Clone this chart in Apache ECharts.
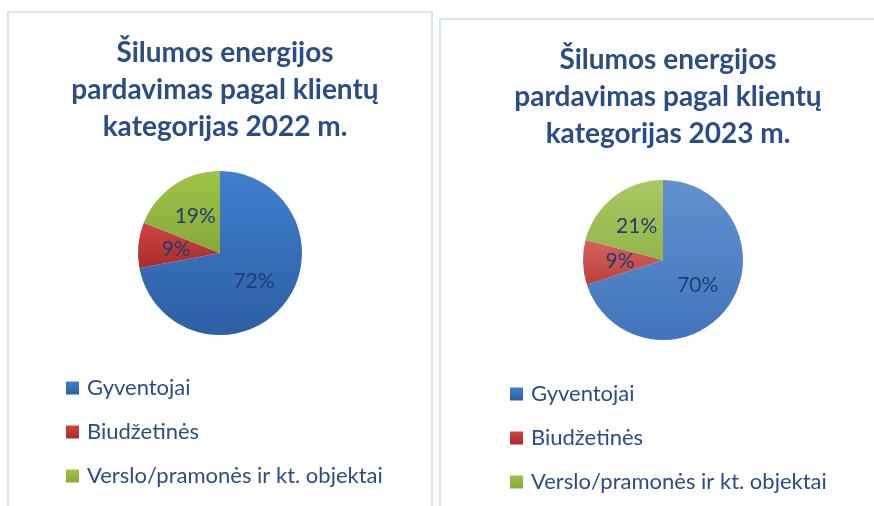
<!DOCTYPE html>
<html>
<head>
<meta charset="utf-8">
<script src="https://cdn.jsdelivr.net/npm/echarts@6/dist/echarts.min.js"></script>
<style>
    html, body { margin: 0; padding: 0; background: #fff; }
    #chart { width: 874px; height: 506px; }
</style>
</head>
<body>
<div id="chart"></div>
<script>
    // duomenys
    var categories = ['Gyventojai', 'Biudžetinės', 'Verslo/pramonės ir kt. objektai'];
    var values2022 = [72, 9, 19];
    var values2023 = [70, 9, 21];
    var titles = [
        'Šilumos energijos\npardavimas pagal klientų\nkategorijas 2022 m.',
        'Šilumos energijos\npardavimas pagal klientų\nkategorijas 2023 m.'
    ];

    var textBlue = '#2a4d85';

    function grad(top, bottom) {
        return new echarts.graphic.LinearGradient(0, 0, 0, 1, [
            { offset: 0, color: top },
            { offset: 1, color: bottom }
        ]);
    }

    var colors2022 = [grad('#3f7fcf', '#2d5fa3'), grad('#d04442', '#a52d2c'), grad('#9fc248', '#86a93a')];
    var colors2023 = [grad('#6192cf', '#4174bc'), grad('#d46360', '#bb3f3c'), grad('#a9c863', '#93b54a')];

    function makeData(vals, cols) {
        var out = [];
        for (var i = 0; i < categories.length; i++) {
            out.push({ name: categories[i], value: vals[i], itemStyle: { color: cols[i] } });
        }
        return out;
    }

    function pieSeries(center, radius, vals, cols) {
        return {
            type: 'pie',
            center: center,
            radius: radius,
            startAngle: 90,
            clockwise: true,
            silent: true,
            data: makeData(vals, cols),
            label: {
                show: true,
                position: 'inside',
                formatter: '{c}%',
                color: '#1f3e70',
                fontFamily: 'Lato',
                fontSize: 21
            },
            labelLine: { show: false },
            itemStyle: { borderWidth: 0 }
        };
    }

    function legendAt(left, top) {
        return {
            orient: 'vertical',
            left: left,
            top: top,
            height: 200,
            icon: 'rect',
            itemWidth: 13,
            itemHeight: 13,
            itemGap: 22,
            selectedMode: false,
            data: categories,
            textStyle: { color: textBlue, fontFamily: 'Lato', fontSize: 22, padding: [0, 0, 0, 3] }
        };
    }

    var titleStyle = {
        color: textBlue,
        fontFamily: 'Lato',
        fontWeight: 'bold',
        fontSize: 28,
        lineHeight: 37
    };

    var option = {
        animation: false,
        title: [
            { text: titles[0], left: 220, top: 29, textAlign: 'center', textStyle: titleStyle },
            { text: titles[1], left: 663, top: 36, textAlign: 'center', textStyle: titleStyle }
        ],
        legend: [legendAt(61, 372), legendAt(505, 378)],
        graphic: [
            { type: 'rect', shape: { x: 8, y: 12, width: 424, height: 520 }, style: { fill: 'none', stroke: '#d8e3f4', lineWidth: 2 } },
            { type: 'rect', shape: { x: 440, y: 19, width: 460, height: 520 }, style: { fill: 'none', stroke: '#d8e3f4', lineWidth: 2 } }
        ],
        series: [
            pieSeries([220, 253], 82, values2022, colors2022),
            pieSeries([663, 260], 80, values2023, colors2023)
        ]
    };

    echarts.init(document.getElementById('chart')).setOption(option);
</script>
</body>
</html>
